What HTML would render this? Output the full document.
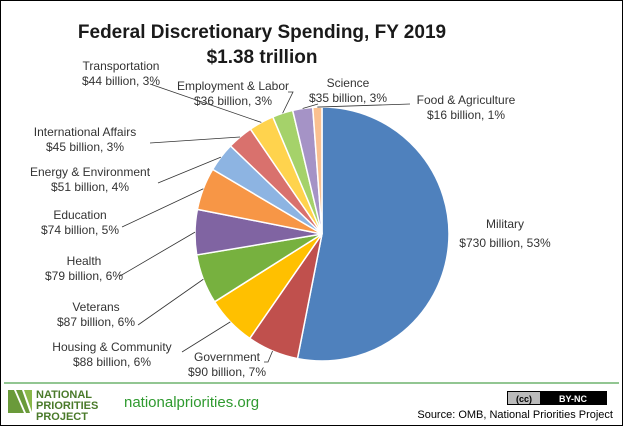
<!DOCTYPE html>
<html><head><meta charset="utf-8"><style>
body{margin:0;background:#fff}
svg{display:block;font-family:"Liberation Sans",sans-serif}
</style></head><body>
<svg width="623" height="426">
<rect x="0.5" y="0.5" width="622" height="425" fill="#fff" stroke="#000"/>
<text x="262" y="38" text-anchor="middle" font-size="19" font-weight="bold" fill="#1a1a1a">Federal Discretionary Spending, FY 2019</text>
<text x="262" y="63" text-anchor="middle" font-size="19" font-weight="bold" fill="#1a1a1a">$1.38 trillion</text>
<g id="pie"></g>
<g id="labels" font-size="12" fill="#333"></g>
<line x1="4" y1="383" x2="619" y2="383" stroke="#6fb36f" stroke-width="1.5"/>
<g>
<polygon points="8,413 8,390 14,390 24,413" fill="#6a9a3a"/>
<polygon points="16,390 22,390 30,413 26,413" fill="#6a9a3a"/>
<polygon points="24,390 32,390 32,412" fill="#8ab84a"/>
<text x="36" y="398" font-size="11" font-weight="bold" fill="#4a7a2a">NATIONAL</text>
<text x="36" y="409" font-size="11" font-weight="bold" fill="#4a7a2a">PRIORITIES</text>
<text x="36" y="420" font-size="11" font-weight="bold" fill="#4a7a2a">PROJECT</text>
</g>
<text x="124" y="407" font-size="15" fill="#2f9a2f">nationalpriorities.org</text>
<g>
<rect x="507" y="391" width="100" height="14" fill="#000"/>
<rect x="508" y="392" width="32" height="12" fill="#bbb"/>
<text x="524" y="402" font-size="9" font-weight="bold" text-anchor="middle" fill="#000">(cc)</text>
<text x="573" y="402" font-size="9" font-weight="bold" text-anchor="middle" fill="#fff">BY-NC</text>
</g>
<text x="613" y="418" font-size="11" text-anchor="end" fill="#000">Source: OMB, National Priorities Project</text>
</svg>
<script>
const categories=["Military","Government","Housing & Community","Veterans","Health","Education","Energy & Environment","International Affairs","Transportation","Employment & Labor","Science","Food & Agriculture"];
const values=[730,90,88,87,79,74,51,45,44,36,35,16];
const percents=["53%","7%","6%","6%","6%","5%","4%","3%","3%","3%","3%","1%"];
const colors=["#4f81bd","#c0504d","#ffc000","#77b13f","#8064a2","#f79646","#8db4e2","#d9716d","#ffd34d","#a5d26a","#a593c6","#fac090"];
const labelPos=[[505,228],[227,361],[112,351],[96,311],[84,265],[80,219],[90,176],[85,136],[121,70],[233,90],[348,87],[466,104]];
const leaderStart=[null,[268,356],[182,352],[138,325],[120,276],[122,227],[158,183],[150,143],[150,84],[288,92],[318,104],[410,104]];
const cx=322,cy=234,r=127;
const NS="http://www.w3.org/2000/svg";
const pie=document.getElementById('pie'),lab=document.getElementById('labels');
const total=values.reduce((a,b)=>a+b,0);
let acc=0;
function pt(a,rr){return [cx+rr*Math.sin(a),cy-rr*Math.cos(a)];}
values.forEach((v,i)=>{
  const a0=acc/total*2*Math.PI; acc+=v; const a1=acc/total*2*Math.PI;
  const p0=pt(a0,r),p1=pt(a1,r);
  const path=document.createElementNS(NS,'path');
  path.setAttribute('d',`M${cx},${cy}L${p0[0]},${p0[1]}A${r},${r} 0 ${a1-a0>Math.PI?1:0} 1 ${p1[0]},${p1[1]}Z`);
  path.setAttribute('fill',colors[i]);path.setAttribute('stroke','#fff');path.setAttribute('stroke-width','1.5');
  
  
  pie.appendChild(path);
  const am=(a0+a1)/2, pm=pt(am,r);
  const [lx,ly]=labelPos[i];
  if(leaderStart[i]){
    const [sx,sy]=leaderStart[i];
    let pts=`${sx},${sy} ${pm[0]},${pm[1]}`;
    if(i==9) pts=`${sx},${sy} ${sx+5},${sy} ${pm[0]},${pm[1]}`;
    if(i==1) pts=`${sx-4},${sy+6} ${sx},${sy+6} ${pm[0]},${pm[1]}`;
    const ln=document.createElementNS(NS,'polyline');
    ln.setAttribute('points',pts);
    ln.setAttribute('fill','none');ln.setAttribute('stroke','#333');ln.setAttribute('stroke-width','0.8');
    
    
    lab.appendChild(ln);
  }
  const t=document.createElementNS(NS,'text');
  t.setAttribute('x',lx);t.setAttribute('y',ly);t.setAttribute('text-anchor','middle');
  
  
  const s1=document.createElementNS(NS,'tspan');s1.setAttribute('x',lx);s1.textContent=categories[i];
  const s2=document.createElementNS(NS,'tspan');s2.setAttribute('x',lx);s2.setAttribute('dy',i==0?19:15);
  s2.textContent='$'+v+' billion, '+percents[i];
  t.appendChild(s1);t.appendChild(s2);lab.appendChild(t);
});
</script>
</body></html>
